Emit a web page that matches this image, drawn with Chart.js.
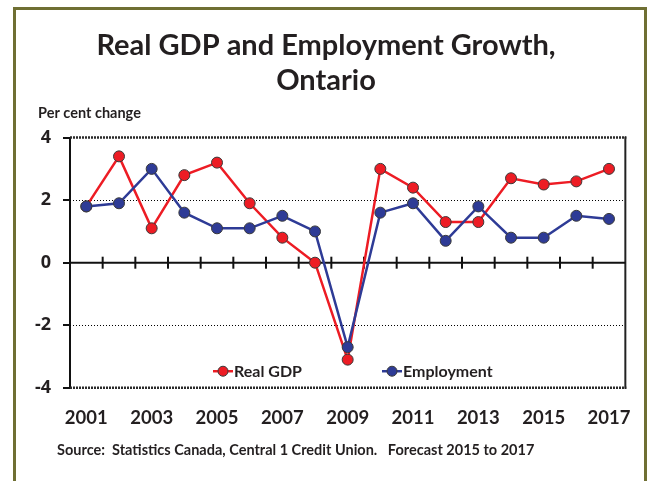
<!DOCTYPE html>
<html>
<head>
<meta charset="utf-8">
<script src="https://cdn.jsdelivr.net/npm/chart.js@4"></script>
<style>
  html, body { margin: 0; padding: 0; background: #fff; }
  #wrap { width: 650px; height: 481px; }
</style>
</head>
<body>
<div id="wrap"><canvas id="chart" width="650" height="481"></canvas></div>
<script>
// years on the x axis
const years = ["2001", "2002", "2003", "2004", "2005", "2006", "2007", "2008", "2009",
               "2010", "2011", "2012", "2013", "2014", "2015", "2016", "2017"];
// per cent change
const realGdp = [1.8, 3.4, 1.1, 2.8, 3.2, 1.9, 0.8, 0.0, -3.1, 3.0, 2.4, 1.3, 1.3, 2.7, 2.5, 2.6, 3.0];
const employment = [1.8, 1.9, 3.0, 1.6, 1.1, 1.1, 1.5, 1.0, -2.7, 1.6, 1.9, 0.7, 1.8, 0.8, 0.8, 1.5, 1.4];
const yTicks = [-4, -2, 0, 2, 4];

const FONT = "Lato, 'Open Sans', sans-serif";
const INK = "#231f20";
const RED = "#ed1c24";
const BLUE = "#2e3b96";

// frame, dotted gridlines and the tick marks along the zero line
const framePlugin = {
  id: "frame",
  beforeDraw(chart) {
    const ctx = chart.ctx;
    ctx.save();
    ctx.strokeStyle = "#6f6f33";
    ctx.lineWidth = 3;
    ctx.strokeRect(14.5, 8.5, 631, 520);
    ctx.restore();
  },
  beforeDatasetsDraw(chart) {
    const { ctx, chartArea: a, scales } = chart;
    const y = scales.y, x = scales.x;
    ctx.save();
    // dotted lines at +2 / -2
    ctx.strokeStyle = "#000";
    ctx.lineWidth = 1;
    ctx.setLineDash([1, 2]);
    [2, -2].forEach(v => {
      const py = Math.round(y.getPixelForValue(v)) + 0.5;
      ctx.beginPath(); ctx.moveTo(a.left, py); ctx.lineTo(a.right, py); ctx.stroke();
    });
    // top and bottom edges, dense dots
    ctx.strokeStyle = "#2a2a2a";
    ctx.lineWidth = 2.5;
    ctx.setLineDash([2, 1]);
    [4, -4].forEach(v => {
      const py = y.getPixelForValue(v);
      ctx.beginPath(); ctx.moveTo(a.left, py); ctx.lineTo(a.right + 1, py); ctx.stroke();
    });
    // right edge
    ctx.setLineDash([]);
    ctx.strokeStyle = "#222";
    ctx.lineWidth = 2;
    ctx.beginPath(); ctx.moveTo(a.right, a.top - 1); ctx.lineTo(a.right, a.bottom + 1); ctx.stroke();
    // zero line with tick marks between categories
    const y0 = y.getPixelForValue(0);
    ctx.strokeStyle = "#111";
    ctx.beginPath(); ctx.moveTo(a.left, y0); ctx.lineTo(a.right, y0); ctx.stroke();
    for (let i = 0; i < years.length - 1; i++) {
      const px = (x.getPixelForValue(i) + x.getPixelForValue(i + 1)) / 2;
      ctx.beginPath(); ctx.moveTo(px, y0 - 6); ctx.lineTo(px, y0 + 6); ctx.stroke();
    }
    ctx.restore();
  },
  afterDraw(chart) {
    const { ctx, scales } = chart;
    ctx.save();
    // unit label above the y axis
    ctx.fillStyle = INK;
    ctx.font = "bold 14.5px " + FONT;
    ctx.textBaseline = "middle";
    ctx.textAlign = "left";
    ctx.fillText("Per cent change", 38, 113);
    // legend inside the plot, near the bottom
    const ly = scales.y.getPixelForValue(-3.47);
    const spots = [213, 382];
    chart.data.datasets.forEach((ds, i) => {
      const lx = spots[i];
      ctx.strokeStyle = ds.borderColor;
      ctx.lineWidth = 2.5;
      ctx.beginPath(); ctx.moveTo(lx, ly); ctx.lineTo(lx + 20, ly); ctx.stroke();
      ctx.fillStyle = ds.pointBackgroundColor;
      ctx.strokeStyle = ds.pointBorderColor;
      ctx.lineWidth = 1;
      ctx.beginPath(); ctx.arc(lx + 10, ly, 5, 0, Math.PI * 2); ctx.fill(); ctx.stroke();
      ctx.fillStyle = INK;
      ctx.font = "bold 16px " + FONT;
      ctx.fillText(ds.label, lx + 21, ly + 1);
    });
    // source line
    ctx.fillStyle = INK;
    ctx.font = "bold 14.5px " + FONT;
    ctx.fillText("Source:  Statistics Canada, Central 1 Credit Union.   Forecast 2015 to 2017", 57, 450);
    ctx.restore();
  }
};

new Chart(document.getElementById("chart"), {
  type: "line",
  data: {
    labels: years,
    datasets: [
      {
        label: "Real GDP",
        data: realGdp,
        order: 1,
        borderColor: RED,
        borderWidth: 2.5,
        pointBackgroundColor: RED,
        pointBorderColor: "#3a3a3a",
        pointBorderWidth: 1,
        pointRadius: 5.5,
        tension: 0
      },
      {
        label: "Employment",
        data: employment,
        order: 0,
        borderColor: BLUE,
        borderWidth: 2.5,
        pointBackgroundColor: BLUE,
        pointBorderColor: "#3a3a3a",
        pointBorderWidth: 1,
        pointRadius: 5.5,
        tension: 0
      }
    ]
  },
  options: {
    responsive: false,
    animation: false,
    layout: { padding: { left: 20, right: 18, top: 0, bottom: 33 } },
    plugins: {
      legend: { display: false },
      tooltip: { enabled: false },
      title: {
        display: true,
        text: ["Real GDP and Employment Growth,", "Ontario"],
        color: INK,
        font: { family: FONT, size: 29, weight: "bold", lineHeight: 1.2 },
        padding: { top: 28, bottom: 40 }
      }
    },
    scales: {
      x: {
        type: "category",
        offset: true,
        grid: { display: false, drawTicks: false },
        border: { display: false },
        ticks: {
          autoSkip: false,
          maxRotation: 0,
          padding: 19,
          color: INK,
          font: { family: FONT, size: 18.5, weight: "bold" },
          callback: function (val, idx) { return idx % 2 === 0 ? years[idx] : ""; }
        }
      },
      y: {
        min: -4,
        max: 4,
        afterFit(scale) { scale.width = 50; },
        afterBuildTicks(scale) { scale.ticks = yTicks.map(v => ({ value: v })); },
        grid: { drawOnChartArea: false, tickLength: 7, color: "#111", lineWidth: 2 },
        border: { display: true, color: "#111", width: 2 },
        ticks: {
          padding: 12,
          color: INK,
          font: { family: "'Open Sans', Lato, sans-serif", size: 18, weight: "bold" }
        }
      }
    }
  },
  plugins: [framePlugin]
});
</script>
</body>
</html>
